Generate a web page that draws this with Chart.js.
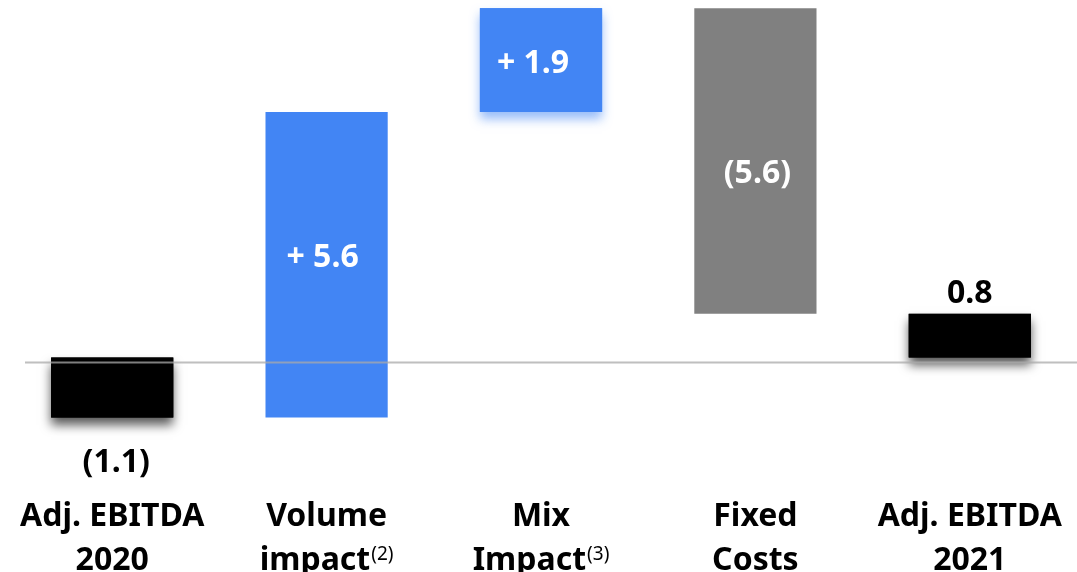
<!DOCTYPE html>
<html>
<head>
<meta charset="utf-8">
<script src="https://cdn.jsdelivr.net/npm/chart.js@4.4.1/dist/chart.umd.min.js"></script>
<style>
  html, body { margin: 0; padding: 0; background: #ffffff; }
  #wrap { width: 1077px; height: 572px; position: relative; }
</style>
</head>
<body>
<div id="wrap"><canvas id="bridge"></canvas></div>
<script>
// EBITDA bridge 2020 -> 2021 (waterfall)
const categoryLines = [
  ['Adj. EBITDA', '2020'],
  ['Volume', 'impact'],
  ['Mix', 'Impact'],
  ['Fixed', 'Costs'],
  ['Adj. EBITDA', '2021']
];
const footnotes = ['', '(2)', '(3)', '', ''];
const steps = [-1.1, 5.6, 1.9, -5.6, 0.8];
const stepKinds = ['total', 'delta', 'delta', 'delta', 'total'];

// Floating [start, end] ranges for each bar
const ranges = [];
let running = 0;
steps.forEach((v, i) => {
  if (stepKinds[i] === 'total') {
    ranges.push([0, v]);
    running = v;
  } else {
    ranges.push([running, running + v]);
    running += v;
  }
});

function stepText(v, kind) {
  const abs = Math.abs(v).toFixed(1);
  if (v < 0) return '(' + abs + ')';
  return kind === 'delta' ? '+ ' + abs : abs;
}

const BLUE = '#4285f4';
const GREY = '#808080';
const barColors = steps.map((v, i) =>
  stepKinds[i] === 'total' ? '#000000' : (v >= 0 ? BLUE : GREY));

const FONT = '"Noto Sans", "Open Sans", sans-serif';
const BIG = 'bold 32px ' + FONT;
const SUP = '19px ' + FONT;

const bridgePlugin = {
  id: 'bridge',
  beforeDatasetsDraw(chart) {
    // soft drop shadows under the totals and the mix step
    const ctx = chart.ctx;
    const meta = chart.getDatasetMeta(0);
    meta.data.forEach((bar, i) => {
      let col = null;
      if (stepKinds[i] === 'total') col = 'rgba(0,0,0,0.65)';
      else if (i === 2) col = 'rgba(66,133,244,0.55)';
      if (!col) return;
      const top = Math.min(bar.y, bar.base);
      const h = Math.abs(bar.base - bar.y);
      ctx.save();
      ctx.shadowColor = col;
      ctx.shadowBlur = 10;
      ctx.shadowOffsetY = 7;
      ctx.fillStyle = barColors[i];
      ctx.fillRect(bar.x - bar.width / 2, top, bar.width, h);
      ctx.restore();
    });
  },
  afterDatasetsDraw(chart) {
    const ctx = chart.ctx;
    const xs = chart.scales.x;
    const ys = chart.scales.y;
    const meta = chart.getDatasetMeta(0);

    // thin horizontal reference line near zero
    const y0 = ys.getPixelForValue(0) + 5;
    ctx.save();
    ctx.strokeStyle = 'rgba(170,170,170,0.75)';
    ctx.lineWidth = 2;
    ctx.beginPath();
    ctx.moveTo(25, y0);
    ctx.lineTo(chart.width, y0);
    ctx.stroke();
    ctx.restore();

    // value labels
    ctx.save();
    ctx.font = BIG;
    ctx.textAlign = 'center';
    ctx.textBaseline = 'middle';
    meta.data.forEach((bar, i) => {
      const v = steps[i];
      const txt = stepText(v, stepKinds[i]);
      const top = Math.min(bar.y, bar.base);
      const bottom = Math.max(bar.y, bar.base);
      let x = bar.x, y;
      if (stepKinds[i] === 'total') {
        ctx.fillStyle = '#000000';
        y = v < 0 ? bottom + 45 : top - 20;
        if (v < 0) x += 4;
      } else {
        ctx.fillStyle = '#ffffff';
        y = (top + bottom) / 2;
        if (i === 1) { y -= 7; x -= 4; }
        if (i === 2) { y += 4; x -= 8; }
        if (i === 3) { y += 13; x += 2; }
      }
      ctx.fillText(txt, x, y);
    });
    ctx.restore();

    // category labels, two lines with optional footnote marker
    ctx.save();
    ctx.fillStyle = '#000000';
    ctx.textBaseline = 'alphabetic';
    categoryLines.forEach((lines, i) => {
      const cx = xs.getPixelForValue(i);
      lines.forEach((line, j) => {
        const base = 526 + j * 44;
        const note = j === lines.length - 1 ? footnotes[i] : '';
        ctx.font = BIG;
        const w1 = ctx.measureText(line).width;
        ctx.font = SUP;
        const w2 = note ? ctx.measureText(note).width + 1 : 0;
        const start = cx - (w1 + w2) / 2;
        ctx.textAlign = 'left';
        ctx.font = BIG;
        ctx.fillText(line, start, base);
        if (note) {
          ctx.font = SUP;
          ctx.fillText(note, start + w1 + 1, base - 10);
        }
      });
    });
    ctx.restore();
  }
};

new Chart(document.getElementById('bridge'), {
  type: 'bar',
  data: {
    labels: categoryLines.map(l => l.join(' ')),
    datasets: [{
      data: ranges,
      backgroundColor: barColors,
      borderWidth: 0,
      barPercentage: 0.57,
      categoryPercentage: 1.0
    }]
  },
  options: {
    responsive: true,
    maintainAspectRatio: false,
    animation: false,
    layout: { padding: { left: 5, right: 0, top: 0, bottom: 0 } },
    plugins: { legend: { display: false }, tooltip: { enabled: false } },
    scales: {
      x: { display: false, offset: true, grid: { display: false } },
      y: { display: false, min: -3.93, max: 6.55, grid: { display: false } }
    }
  },
  plugins: [bridgePlugin]
});
</script>
</body>
</html>
